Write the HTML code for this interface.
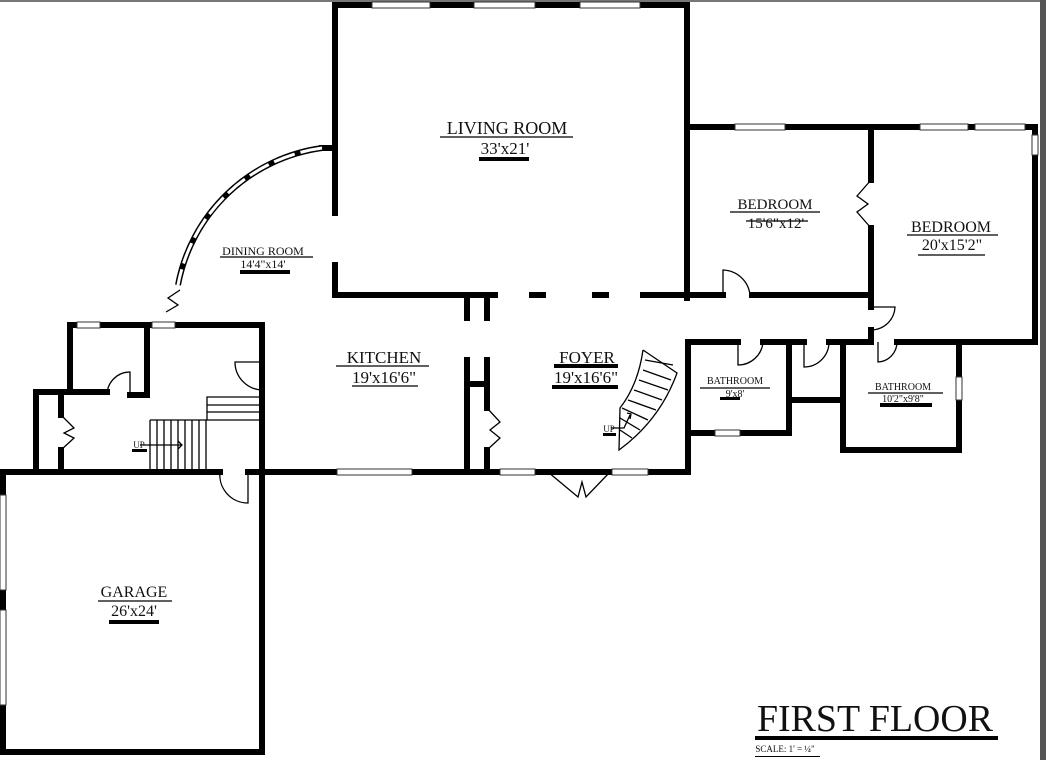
<!DOCTYPE html>
<html><head><meta charset="utf-8"><style>
html,body{margin:0;padding:0;background:#fff;width:1046px;height:760px;overflow:hidden}
svg{display:block}
text{font-family:"Liberation Serif",serif;fill:#111;text-anchor:middle}
</style></head><body>
<svg width="1046" height="760" viewBox="0 0 1046 760">
<rect x="0" y="0" width="1046" height="2" fill="#777"/>
<rect x="1040" y="0" width="6" height="760" fill="#555"/>
<g stroke="#000" stroke-width="6" fill="none" stroke-linecap="square">
<path d="M335 5 H687 V298"/>
<path d="M335 5 V213 M335 265 V295 H495 M532 295 H543 M595 295 H606 M643 295 H723 M752 295 H871"/>
<path d="M467 295 V318 M487 295 V318"/>
<path d="M467 360 V470 M487 360 V408 M487 450 V470 M467 384 H487"/>
<path d="M687 127 H1035 V342 H897"/>
<path d="M871 127 V180 M871 228 V307 M871 330 V342 H829 M804 342 H763 M738 342 H688 V470"/>
<path d="M789 342 V433 H688 M789 400 H843 M843 342 V450 H959 V342"/>
<path d="M3 472 H220 M248 472 H688"/>
<path d="M3 472 V752 H262 V325 M262 325 V360 M262 390 V472"/>
<path d="M70 325 H262 M70 325 V392 M36 392 H107 M130 395 H147 V325 M36 392 V472 M61 392 V415 M61 450 V472"/>
<path d="M322 148 H335"/>
</g>
<g fill="#fff" stroke="#333" stroke-width="1">
<rect x="372" y="2" width="58" height="6"/><rect x="474" y="2" width="61" height="6"/><rect x="580" y="2" width="60" height="6"/>
<rect x="735" y="124" width="50" height="6"/><rect x="920" y="124" width="48" height="6"/><rect x="975" y="124" width="50" height="6"/>
<rect x="337" y="469" width="75" height="6"/><rect x="500" y="469" width="35" height="6"/><rect x="612" y="469" width="36" height="6"/>
<rect x="715" y="430" width="25" height="6"/>
<rect x="956" y="377" width="6" height="23"/>
<rect x="1032" y="135" width="6" height="20"/>
<rect x="77" y="322" width="23" height="6"/><rect x="152" y="322" width="23" height="6"/>
<rect x="0" y="495" width="6" height="95"/><rect x="0" y="610" width="6" height="95"/>
</g>
<path d="M322 148 A170 170 0 0 0 178 285" fill="none" stroke="#000" stroke-width="6"/>
<path d="M322 148 A170 170 0 0 0 178 285" fill="none" stroke="#fff" stroke-width="3" stroke-dasharray="22 6"/>
<g fill="none" stroke="#000" stroke-width="1.3">
<path d="M180 290 L168 298 L178 305 L166 312"/>
<path d="M487 408 L500 422 L490 430 L500 438 L487 450"/>
<path d="M61 415 L74 428 L64 433 L74 438 L61 450"/>
<path d="M871 180 L857 196 L868 204 L857 212 L871 228"/>
<path d="M548 472 L578 497 L582 482 L586 497 L610 472"/>
<path d="M723 295 V270 A28 28 0 0 1 750 295"/>
<path d="M871 307 H895 A24 24 0 0 1 871 330"/>
<path d="M738 342 V365 A25 25 0 0 0 763 342"/>
<path d="M804 342 V367 A25 25 0 0 0 829 342"/>
<path d="M878 342 V362 A20 20 0 0 0 897 342"/>
<path d="M130 395 V372 A23 23 0 0 0 107 395"/>
<path d="M262 362 H235 A28 28 0 0 0 262 390"/>
<path d="M248 472 V503 A28 28 0 0 1 220 472"/>
<path d="M150 420 H207 V397 H262 M207 405 H262 M207 412 H262 M207 420 H262"/>
<path d="M150 420 V472 M157 420 V472 M164 420 V472 M171 420 V472 M178 420 V472 M185 420 V472 M192 420 V472 M199 420 V472 M206 420 V472"/>
<path d="M140 445 H182 M178 441 L182 445 L178 449"/>
<path d="M643 350 Q638 385 620 408 L619 450 Q660 420 677 373 L643 350"/>
<path d="M645 360 L673 365 M643 370 L671 380 M639 380 L668 390 M634 390 L662 400 M628 400 L656 410 M622 408 L648 420 M620 418 L640 430 M620 430 L632 438"/>
<path d="M611 428 H624 L630 415 M627 413 L631 414 L630 419"/>
<path d="M440 137 H573 M220 257 H313 M336 366 H429 M730 212 H820 M907 235 H998 M700 388 H770 M868 393 H943 M98 601 H172 M352 386 H418 M746 221 H808 M918 255 H985"/>
</g>
<g fill="#000">
<rect x="479" y="157" width="50" height="4"/><rect x="240" y="270" width="50" height="4"/>
<rect x="554" y="364" width="64" height="4"/><rect x="552" y="385" width="66" height="4"/>
<rect x="720" y="397" width="20" height="3"/><rect x="880" y="403" width="52" height="4"/>
<rect x="109" y="620" width="50" height="4"/><rect x="132" y="449" width="15" height="3"/>
<rect x="603" y="433" width="13" height="3"/>
<rect x="755" y="736" width="243" height="4"/>
<rect x="755" y="756" width="65" height="1"/>
</g>
<text x="507" y="134" font-size="18">LIVING ROOM</text>
<text x="505" y="154" font-size="17">33'x21'</text>
<text x="263" y="255" font-size="12">DINING ROOM</text>
<text x="263" y="268" font-size="12">14'4"x14'</text>
<text x="384" y="363" font-size="17">KITCHEN</text>
<text x="384" y="383" font-size="17">19'x16'6"</text>
<text x="587" y="363" font-size="17">FOYER</text>
<text x="586" y="383" font-size="17">19'x16'6"</text>
<text x="775" y="209" font-size="15">BEDROOM</text>
<text x="776" y="228" font-size="15">15'6"x12'</text>
<text x="951" y="232" font-size="16">BEDROOM</text>
<text x="952" y="250" font-size="16">20'x15'2"</text>
<text x="735" y="384" font-size="10">BATHROOM</text>
<text x="735" y="397" font-size="10">9'x8'</text>
<text x="903" y="390" font-size="10">BATHROOM</text>
<text x="903" y="402" font-size="10">10'2"x9'8"</text>
<text x="134" y="597" font-size="16">GARAGE</text>
<text x="134" y="616" font-size="16">26'x24'</text>
<text x="139" y="448" font-size="9">UP</text>
<text x="609" y="432" font-size="9">UP</text>
<text x="875" y="731" font-size="38" textLength="236" lengthAdjust="spacingAndGlyphs">FIRST FLOOR</text>
<text x="785" y="752" font-size="9">SCALE: 1' = ¼"</text>
</svg>
</body></html>
